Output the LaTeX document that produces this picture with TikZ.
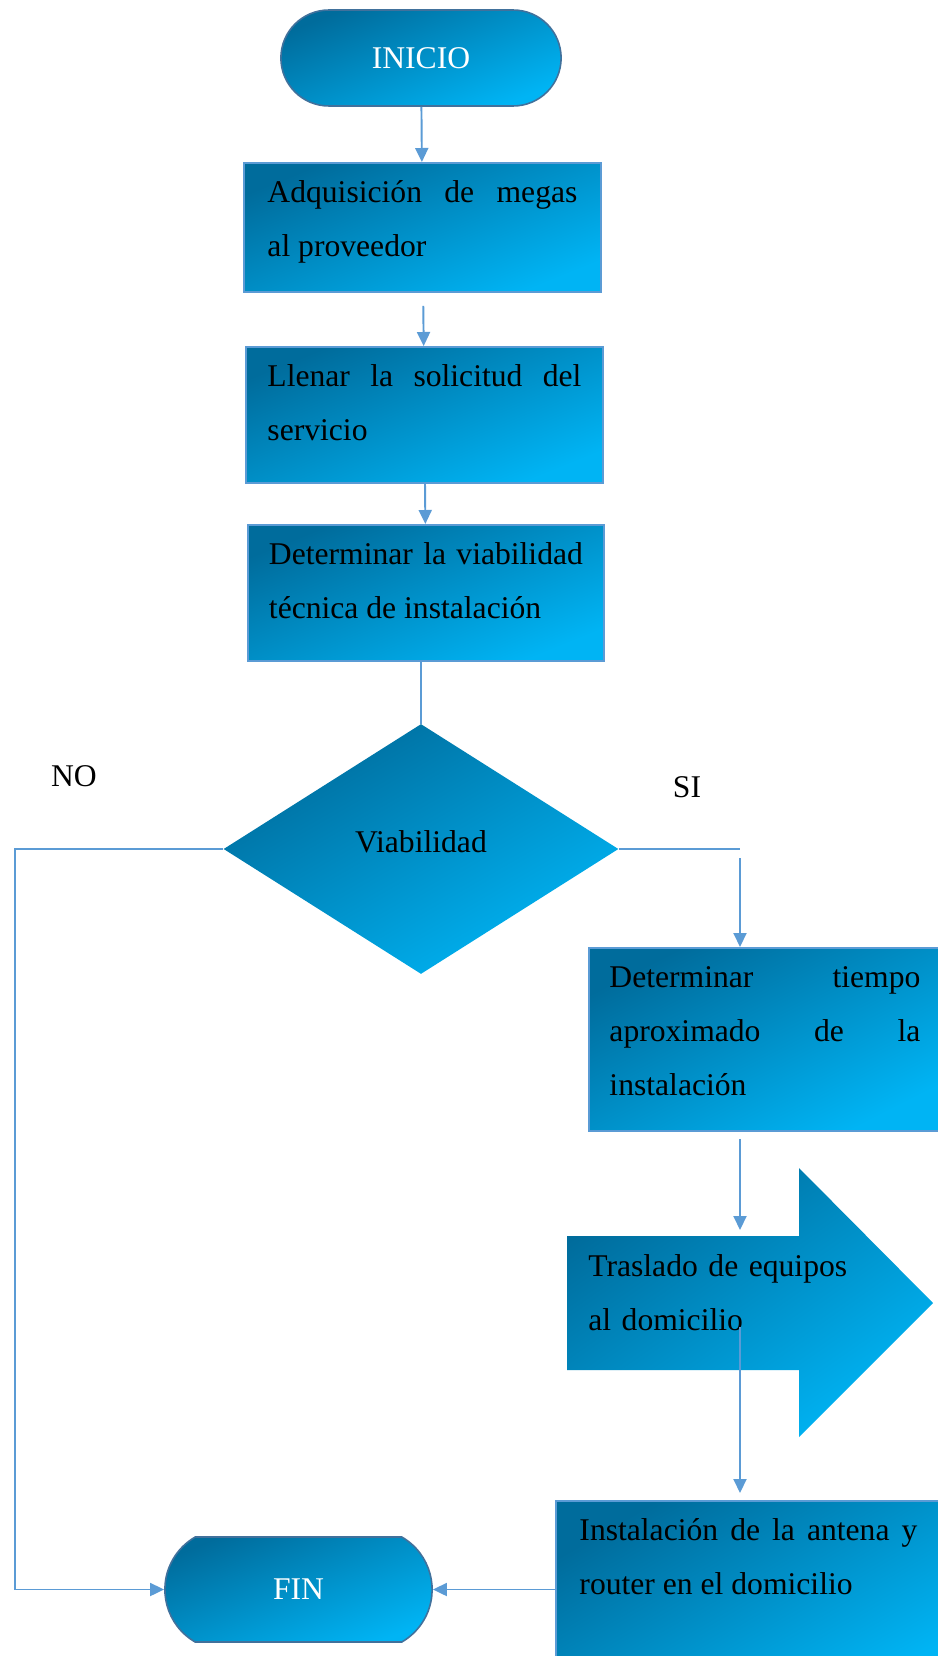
\documentclass[tikz,border=0pt]{standalone}
\usepackage{fontspec}
\setmainfont{Liberation Serif}
\usepackage{xcolor}
\usepackage{tikz}
\usetikzlibrary{arrows.meta,positioning,shapes.geometric,shapes.misc,calc}
\definecolor{bluedark}{RGB}{0, 108, 156}
\definecolor{bluelight}{RGB}{0, 180, 244}
\definecolor{lineblue}{RGB}{91, 155, 213}
\definecolor{borderblue}{RGB}{65, 113, 156}

\begin{document}
\begin{tikzpicture}[x=0.02cm, y=-0.02cm, every node/.style={font=\fontsize{18}{30.7}\selectfont},
    grad/.style={top color=bluedark, bottom color=bluelight, shading angle=22},
    procbox/.style={grad, draw=lineblue, line width=1.1pt, rectangle, anchor=north west, align=justify, inner ysep=0pt, text height=0.8cm},
    termbox/.style={grad, draw=borderblue, line width=0.9pt, text=white, rounded rectangle},
    flow/.style={draw=lineblue, line width=1.1pt, -{Triangle[length=0.28cm, width=0.26cm]}},
    plain/.style={draw=lineblue, line width=0.7pt}]
    \useasboundingbox (0, 0) rectangle (937, 1656);

    \node[termbox, minimum width=5.84cm, minimum height=1.92cm] (inicio) at (421, 58) {INICIO};
    \node[procbox, minimum width=7.14cm, text width=6.2cm, text depth=1.78cm] (adq) at (243, 162) {Adquisición de megas\linebreak al proveedor};
    \node[procbox, minimum width=7.14cm, text width=6.28cm, text depth=1.92cm] (sol) at (245, 346) {Llenar la solicitud del\linebreak servicio};
    \node[procbox, minimum width=7.12cm, text width=6.28cm, text depth=1.92cm] (det) at (247, 524) {Determinar la viabilidad\linebreak técnica de instalación};

    \node[grad, shading angle=30, diamond, minimum width=7.9cm, minimum height=5cm, inner sep=0pt, text depth=0.3cm] (via) at (421, 849) {Viabilidad};
    \node (no) at (74, 776) {NO};
    \node (si) at (687, 787) {SI};

    \node[procbox, shading angle=27, minimum width=7.04cm, text width=6.22cm, text depth=2.86cm] (tiempo) at (588, 947) {Determinar tiempo\linebreak aproximado de la\linebreak instalación};

    % block arrow behind the text
    \shade[grad, shading angle=35] (567, 1236) -- (799, 1236) -- (799, 1168) -- (933, 1303) -- (799, 1437) -- (799, 1370) -- (567, 1370) -- cycle;
    \node[anchor=north west, text width=5.4cm, align=left, inner xsep=0pt, inner ysep=0pt, text height=0.8cm] (tras) at (588, 1236) {Traslado de equipos\\al domicilio};

    \node[procbox, shading angle=30, minimum width=7.7cm, text width=6.76cm, text depth=3.2cm] (inst) at (555, 1500) {Instalación de la antena y\linebreak router en el domicilio};
    \node[termbox, rounded rectangle arc length=120, minimum width=5.58cm, minimum height=2.1cm] (fin) at (298.5, 1589.5) {FIN};

    \coordinate (col) at (740, 0);
    \coordinate (noleft) at (15, 849);
    \coordinate (sigap) at (740, 858);
    \coordinate (trasmid) at (740, 1327);

    \draw[flow] (inicio) -- (adq);
    \draw[flow, shorten <=0.26cm] (adq) -- (sol);
    \draw[flow] (sol) -- (det);
    \draw[plain] (via.north |- det.south) -- (via.north);
    \draw[flow] (via.west) -- (noleft) |- (fin.west);
    \draw[plain] (via.east) -- (via.east -| col);
    \draw[flow] (sigap) -- (tiempo.north -| col);
    \draw[flow, shorten <=0.14cm, shorten >=0.12cm] (tiempo.south -| col) -- (col |- tras.north);
    \draw[flow, shorten >=0.14cm] (trasmid) -- (inst.north -| col);
    \draw[flow] (inst.west |- fin.east) -- (fin.east);
\end{tikzpicture}
\end{document}
